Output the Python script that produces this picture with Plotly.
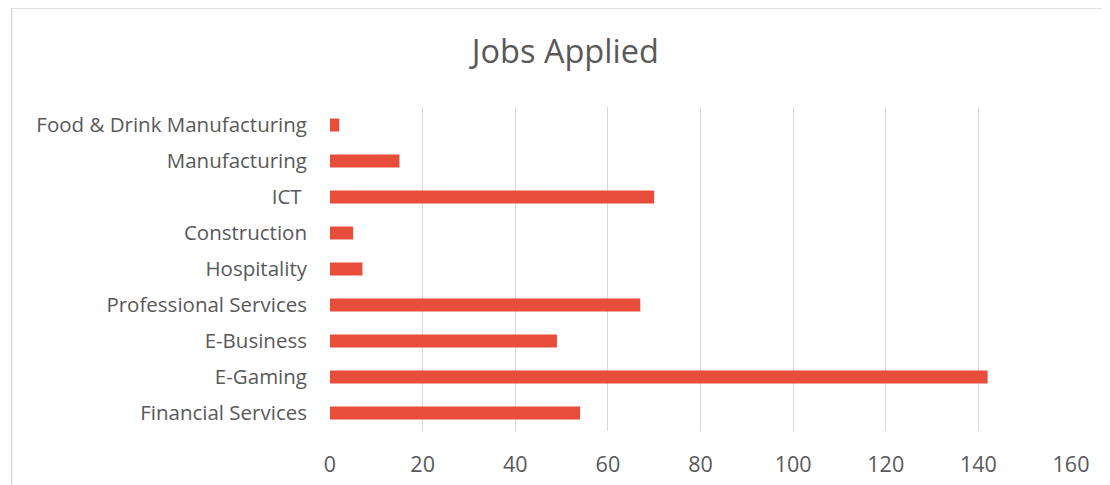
import plotly.graph_objects as go

categories = ["Financial Services", "E-Gaming", "E-Business", "Professional Services",
              "Hospitality", "Construction", "ICT ", "Manufacturing",
              "Food & Drink Manufacturing"]
jobs_applied = [54, 142, 49, 67, 7, 5, 70, 15, 2]
x_ticks = [0, 20, 40, 60, 80, 100, 120, 140, 160]

# the page body has an 8px margin; work in screen pixels and convert
OFF = 8
W, H = 1110, 485
plot_left, plot_right, plot_top, plot_bottom = 329.5, 1071, 107, 431
L = plot_left - OFF
R = W - (plot_right - OFF)
T = plot_top - OFF
B = H - (plot_bottom - OFF)
pw, ph = plot_right - plot_left, plot_bottom - plot_top

def px_x(p):
    return (p - plot_left) / pw

def px_y(p):
    return (plot_bottom - p) / ph

fig = go.Figure(go.Bar(
    y=categories, x=jobs_applied, orientation="h",
    marker=dict(color="#E84C3B", line=dict(width=0)),
))

fig.update_layout(
    width=W, height=H,
    margin=dict(l=L, r=R, t=T, b=B, autoexpand=False),
    paper_bgcolor="white", plot_bgcolor="white",
    font=dict(family="Open Sans, sans-serif", color="#595959", size=20.5),
    bargap=0.64,
    showlegend=False,
    title=dict(text="Jobs Applied", x=px_x(565), xref="paper", xanchor="center",
               y=1 - (52 - OFF) / H, yref="container", yanchor="middle",
               font=dict(size=32.5, color="#595959")),
    xaxis=dict(range=[0, 160], tickvals=x_ticks, showgrid=True, gridcolor="#D9D9D9",
               gridwidth=1.3, zeroline=False, showline=False, ticks="",
               ticklabelstandoff=18, tickfont=dict(size=21.5), fixedrange=True),
    yaxis=dict(showgrid=False, zeroline=False, showline=False, ticks="",
               ticklabelstandoff=22, categoryorder="array", categoryarray=categories,
               range=[-0.5, 8.5]),
    shapes=[
        dict(type="rect", xref="paper", yref="paper",
             x0=px_x(11), x1=px_x(1125), y0=px_y(500), y1=px_y(8),
             line=dict(color="#D9D9D9", width=1.3), fillcolor="rgba(0,0,0,0)", layer="below"),
    ],
)

fig.write_html("out.html")
